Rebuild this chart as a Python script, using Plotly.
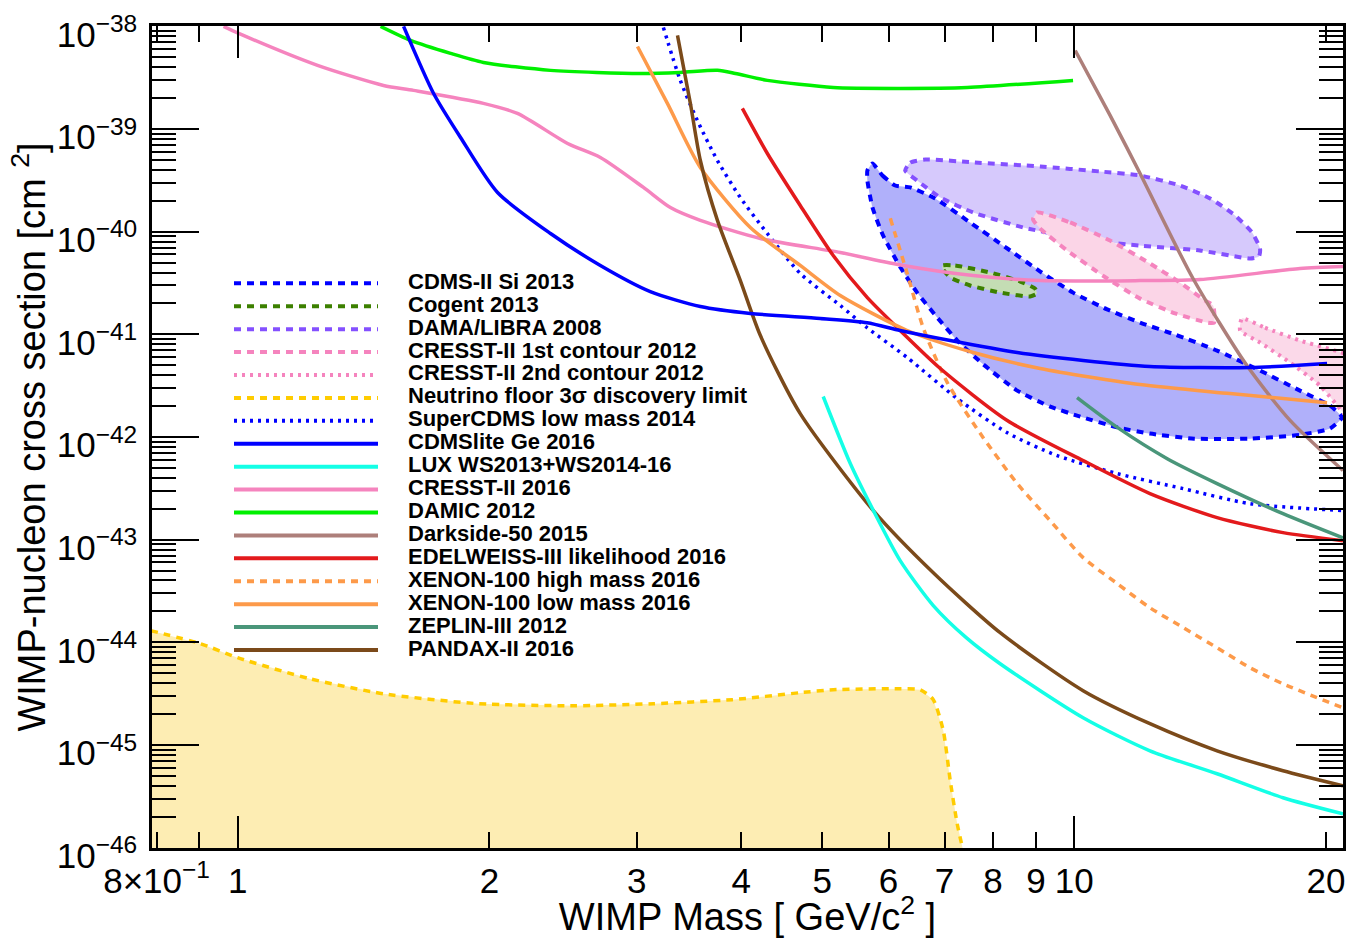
import math
import plotly.graph_objects as go

# ---------------- data (WIMP mass in GeV/c^2, cross section in cm^2) ----------------
cdms_si_m = [5.74, 5.90, 6.11, 6.37, 6.82, 7.51, 8.32, 9.11, 9.97, 10.95, 11.99, 13.20, 14.82, 16.68, 18.62, 20.23, 20.90,
             20.23, 18.62, 16.23, 13.91, 12.32, 11.26, 10.17, 9.36, 8.55, 7.79, 7.25, 6.86, 6.49, 6.20, 5.91, 5.74, 5.66, 5.66, 5.74]
cdms_si_s = [4.62e-40, 3.53e-40, 2.82e-40, 2.70e-40, 2.11e-40, 1.23e-40, 6.86e-41, 4.09e-41, 2.55e-41, 1.75e-41, 1.30e-41,
             9.95e-42, 6.95e-42, 4.44e-42, 2.83e-42, 2.02e-42, 1.55e-42,
             1.21e-42, 1.05e-42, 9.64e-43, 9.64e-43, 1.08e-42, 1.24e-42, 1.58e-42, 1.98e-42, 2.83e-42, 5.08e-42, 8.70e-42,
             1.46e-41, 2.55e-41, 4.48e-41, 9.18e-41, 1.72e-40, 3.15e-40, 3.95e-40, 4.62e-40]

cogent_m = [6.96, 7.21, 7.94, 8.62, 8.98, 9.03, 8.86, 8.16, 7.51, 7.11, 6.96, 6.96]
cogent_s = [4.69e-41, 4.69e-41, 4.00e-41, 3.27e-41, 2.79e-41, 2.50e-41, 2.34e-41, 2.55e-41, 2.99e-41, 3.58e-41, 4.38e-41, 4.69e-41]

dama_m = [6.28, 6.37, 6.64, 7.61, 9.11, 10.74, 11.99, 13.38, 14.54, 15.57, 16.32, 16.68, 16.63, 16.23, 14.14, 11.99,
          10.45, 8.69, 7.57, 6.92, 6.49, 6.28]
dama_s = [3.95e-40, 4.72e-40, 5.06e-40, 4.72e-40, 4.32e-40, 3.86e-40, 3.53e-40, 2.82e-40, 2.11e-40, 1.44e-40, 9.82e-41,
          6.86e-41, 5.73e-41, 5.48e-41, 6.56e-41, 7.33e-41, 8.20e-41, 1.10e-40, 1.54e-40, 2.15e-40, 3.15e-40, 3.95e-40]

cresst1_m = [9.03, 9.89, 11.04, 12.32, 13.38, 14.34, 14.66, 14.70, 14.46, 13.20, 11.99, 10.86, 9.81, 9.11, 8.93, 9.03]
cresst1_s = [1.54e-40, 1.23e-40, 8.20e-41, 4.90e-41, 3.20e-41, 2.13e-41, 1.91e-41, 1.30e-41, 1.30e-41, 1.60e-41, 2.23e-41,
             3.66e-41, 6.56e-41, 1.07e-40, 1.32e-40, 1.54e-40]

cresst2_m = [15.87, 16.91, 18.62, 22.0, 22.0, 19.67, 18.12, 16.68, 15.79, 15.87]
cresst2_s = [1.43e-41, 1.16e-41, 8.70e-42, 5.43e-42, 1.18e-42, 3.17e-42, 5.31e-42, 8.32e-42, 1.09e-41, 1.43e-41]

nu_floor_m = [0.787, 0.903, 1.0, 1.219, 1.494, 1.941, 2.527, 3.141, 3.903, 4.705, 5.152, 6.195, 6.546, 6.786, 6.975, 7.11, 7.247, 7.368]
nu_floor_s = [1.30e-44, 9.69e-45, 7.08e-45, 4.42e-45, 3.15e-45, 2.52e-45, 2.41e-45, 2.52e-45, 2.76e-45, 3.23e-45, 3.45e-45,
              3.53e-45, 3.45e-45, 2.76e-45, 1.38e-45, 4.48e-46, 1.71e-46, 9.3e-47]

supercdms_m = [3.228, 3.382, 3.545, 3.746, 3.990, 4.298, 4.705, 5.253, 5.656, 6.316, 7.247, 8.318, 9.544, 11.26, 13.50, 16.23, 20.96]
supercdms_s = [9.78e-39, 2.98e-39, 1.21e-39, 4.94e-40, 2.15e-40, 9.60e-41, 3.92e-41, 1.91e-41, 1.16e-41, 5.94e-42, 2.37e-42,
               1.10e-42, 6.59e-43, 4.40e-43, 3.14e-43, 2.24e-43, 1.92e-43]

cdmslite_m = [1.579, 1.715, 1.847, 2.045, 2.366, 2.714, 3.114, 3.574, 4.101, 4.971, 5.656, 6.195, 7.11, 8.55, 10.25, 12.32, 16.23, 20.06]
cdmslite_s = [1.0e-38, 2.22e-39, 8.28e-40, 2.41e-40, 9.60e-41, 4.69e-41, 2.61e-41, 1.87e-41, 1.60e-41, 1.43e-41, 1.30e-41,
              1.09e-41, 8.70e-42, 6.65e-42, 5.56e-42, 4.86e-42, 4.75e-42, 5.19e-42]

lux_m = [5.012, 5.400, 5.754, 6.195, 6.786, 7.43, 8.157, 10.25, 12.32, 14.82, 17.77, 20.96]
lux_s = [2.48e-42, 5.51e-43, 1.92e-43, 6.24e-44, 2.28e-44, 1.11e-44, 6.18e-45, 1.84e-45, 8.77e-46, 5.24e-46, 3.06e-46, 2.13e-46]

cresst2016_m = [0.962, 1.003, 1.246, 1.494, 1.623, 1.967, 2.160, 2.480, 2.714, 3.056, 3.291, 3.574, 4.216, 5.253, 6.248,
                7.574, 9.107, 11.99, 14.14, 18.62, 20.96]
cresst2016_s = [1.0e-38, 8.55e-39, 4.17e-39, 2.66e-39, 2.38e-39, 1.78e-39, 1.42e-39, 7.24e-40, 5.29e-40, 2.70e-40, 1.72e-40,
                1.29e-40, 8.59e-41, 6.27e-41, 4.69e-41, 3.74e-41, 3.34e-41, 3.34e-41, 3.42e-41, 4.38e-41, 4.58e-41]

damic_m = [1.482, 1.610, 1.797, 1.967, 2.366, 3.030, 3.382, 3.746, 3.936, 4.298, 5.152, 6.195, 7.450, 9.97]
damic_s = [1.0e-38, 7.31e-39, 5.46e-39, 4.46e-39, 3.73e-39, 3.48e-39, 3.56e-39, 3.73e-39, 3.48e-39, 2.98e-39, 2.54e-39,
           2.49e-39, 2.54e-39, 2.98e-39]

darkside_m = [10.03, 11.04, 11.99, 13.87, 16.09, 18.12, 20.96]
darkside_s = [5.83e-39, 1.36e-39, 3.69e-40, 3.50e-41, 4.96e-42, 1.45e-42, 4.71e-43]

edelweiss_m = [4.012, 4.298, 4.705, 5.152, 5.656, 6.195, 6.918, 8.318, 10.25, 12.32, 14.82, 17.77, 20.96]
edelweiss_s = [1.59e-39, 5.78e-40, 1.80e-40, 5.86e-41, 2.29e-41, 1.09e-41, 4.65e-42, 1.45e-42, 5.89e-43, 2.81e-43, 1.64e-43,
               1.17e-43, 9.77e-44]

xenon_high_m = [6.029, 6.316, 6.600, 7.053, 7.785, 8.55, 9.362, 10.25, 11.26, 12.32, 13.50, 14.82, 16.23, 17.77, 20.96]
xenon_high_s = [1.35e-40, 3.92e-41, 1.16e-41, 3.39e-42, 9.86e-43, 3.52e-43, 1.53e-43, 6.68e-44, 3.73e-44, 2.17e-44, 1.39e-44,
                8.85e-45, 5.65e-45, 3.94e-45, 2.30e-45]

xenon_low_m = [3.006, 3.264, 3.574, 4.101, 4.705, 5.253, 6.316, 7.574, 9.107, 11.99, 15.36, 20.06]
xenon_low_s = [6.38e-39, 1.78e-39, 4.23e-40, 1.10e-40, 4.69e-41, 2.39e-41, 1.09e-41, 6.65e-42, 4.65e-42, 3.24e-42, 2.65e-42, 2.16e-42]

zeplin_m = [10.08, 11.26, 12.92, 14.82, 17.77, 20.96]
zeplin_s = [2.42e-42, 1.24e-42, 6.15e-43, 3.52e-43, 1.79e-43, 1.04e-43]

pandax_m = [3.356, 3.477, 3.574, 3.746, 3.990, 4.216, 4.705, 5.754, 6.786, 8.157, 10.25, 12.32, 14.82, 17.77, 20.96]
pandax_s = [8.17e-39, 1.78e-39, 4.94e-40, 1.29e-40, 3.34e-41, 9.73e-42, 1.69e-42, 1.92e-43, 4.76e-44, 1.24e-44, 3.38e-45,
            1.61e-45, 8.77e-46, 5.61e-46, 4.00e-46]

legend_names = ["CDMS-II Si 2013", "Cogent 2013", "DAMA/LIBRA 2008", "CRESST-II 1st contour 2012",
                "CRESST-II 2nd contour 2012", "Neutrino floor 3σ discovery limit", "SuperCDMS low mass 2014",
                "CDMSlite Ge 2016", "LUX WS2013+WS2014-16", "CRESST-II 2016", "DAMIC 2012", "Darkside-50 2015",
                "EDELWEISS-III likelihood 2016", "XENON-100 high mass 2016", "XENON-100 low mass 2016",
                "ZEPLIN-III 2012", "PANDAX-II 2016"]

x_tick_vals = [0.8, 0.9, 1, 2, 3, 4, 5, 6, 7, 8, 9, 10, 20]
x_tick_text = ["8×10<sup>−1</sup>", " ", "1", "2", "3", "4", "5", "6", "7", "8", "9", "10", "20"]
y_decades = [-46, -45, -44, -43, -42, -41, -40, -39, -38]

# ---------------- styles ----------------
BLUE = "#0000ff"
PINK = "#f584be"
ORANGE = "#fd9a4a"
DASH = "7px,6px"
DOT = "3px,5px"

contours = [
    # name, m, s, line colour, dash, fill colour
    ("CDMS-II Si 2013", cdms_si_m, cdms_si_s, BLUE, DASH, "#b0b0fa"),
    ("DAMA/LIBRA 2008", dama_m, dama_s, "#8450ff", DASH, "#d6c9fc"),
    ("CRESST-II 1st contour 2012", cresst1_m, cresst1_s, PINK, DASH, "#fbd5e7"),
    ("CRESST-II 2nd contour 2012", cresst2_m, cresst2_s, PINK, DOT, "rgba(251,213,231,0.9)"),
    ("Cogent 2013", cogent_m, cogent_s, "#3c8000", DASH, "#c4ddb4"),
]

curves = [
    ("SuperCDMS low mass 2014", supercdms_m, supercdms_s, BLUE, DOT),
    ("CRESST-II 2016", cresst2016_m, cresst2016_s, PINK, "solid"),
    ("DAMIC 2012", damic_m, damic_s, "#00f000", "solid"),
    ("Darkside-50 2015", darkside_m, darkside_s, "#ad7f7a", "solid"),
    ("XENON-100 high mass 2016", xenon_high_m, xenon_high_s, ORANGE, DASH),
    ("EDELWEISS-III likelihood 2016", edelweiss_m, edelweiss_s, "#e31a1c", "solid"),
    ("XENON-100 low mass 2016", xenon_low_m, xenon_low_s, ORANGE, "solid"),
    ("ZEPLIN-III 2012", zeplin_m, zeplin_s, "#4a967a", "solid"),
    ("PANDAX-II 2016", pandax_m, pandax_s, "#7b4a1a", "solid"),
    ("LUX WS2013+WS2014-16", lux_m, lux_s, "#14ffe6", "solid"),
    ("CDMSlite Ge 2016", cdmslite_m, cdmslite_s, BLUE, "solid"),
]

legend_style = {
    "CDMS-II Si 2013": (BLUE, DASH),
    "Cogent 2013": ("#3c8000", DASH),
    "DAMA/LIBRA 2008": ("#8450ff", DASH),
    "CRESST-II 1st contour 2012": (PINK, DASH),
    "CRESST-II 2nd contour 2012": (PINK, DOT),
    "Neutrino floor 3σ discovery limit": ("#ffcc00", DASH),
    "SuperCDMS low mass 2014": (BLUE, DOT),
    "CDMSlite Ge 2016": (BLUE, "solid"),
    "LUX WS2013+WS2014-16": ("#14ffe6", "solid"),
    "CRESST-II 2016": (PINK, "solid"),
    "DAMIC 2012": ("#00f000", "solid"),
    "Darkside-50 2015": ("#ad7f7a", "solid"),
    "EDELWEISS-III likelihood 2016": ("#e31a1c", "solid"),
    "XENON-100 high mass 2016": (ORANGE, DASH),
    "XENON-100 low mass 2016": (ORANGE, "solid"),
    "ZEPLIN-III 2012": ("#4a967a", "solid"),
    "PANDAX-II 2016": ("#7b4a1a", "solid"),
}

X_RANGE = [math.log10(0.79), math.log10(20.96)]
Y_RANGE = [-46.004, -37.996]

fig = go.Figure()

# neutrino floor filled region (closed down below the bottom of the frame)
floor = 10 ** (Y_RANGE[0] - 1)
fig.add_trace(go.Scatter(
    x=nu_floor_m + [nu_floor_m[-1], nu_floor_m[0]],
    y=nu_floor_s + [floor, floor],
    mode="lines", fill="toself", fillcolor="#fdedb3",
    line=dict(width=0, color="rgba(0,0,0,0)"), showlegend=False, hoverinfo="skip"))
fig.add_trace(go.Scatter(
    x=nu_floor_m, y=nu_floor_s, mode="lines", name="Neutrino floor 3σ discovery limit",
    line=dict(color="#ffcc00", width=3.5, dash=DASH, shape="spline", smoothing=0.6), showlegend=False))

for name, m, s, col, dash, fc in contours:
    fig.add_trace(go.Scatter(
        x=m, y=s, mode="lines", name=name, fill="toself", fillcolor=fc,
        line=dict(color=col, width=4, dash=dash, shape="spline", smoothing=0.5), showlegend=False))

for name, m, s, col, dash in curves:
    fig.add_trace(go.Scatter(
        x=m, y=s, mode="lines", name=name,
        line=dict(color=col, width=3.5, dash=dash, shape="spline", smoothing=0.7), showlegend=False))

# ---------------- hand-built legend (ROOT style, tight rows) ----------------
L, R, T, B = 152, 1343, 26, 848
W, H = R - L, B - T
row0, row_step = 283.3, 22.92
shapes = []
annotations = []
for i, name in enumerate(legend_names):
    col, dash = legend_style[name]
    yp = (B - (row0 + i * row_step)) / H
    shapes.append(dict(type="line", xref="paper", yref="paper",
                       x0=(234 - L) / W, x1=(378 - L) / W, y0=yp, y1=yp,
                       line=dict(color=col, width=4, dash=dash)))
    annotations.append(dict(xref="paper", yref="paper", x=(406 - L) / W, y=yp + 2.0 / H,
                            xanchor="left", yanchor="middle", showarrow=False,
                            text="<b>" + name + "</b>",
                            font=dict(family="Liberation Sans, Arial, sans-serif", size=22, color="black")))

y_minor = [k * 10.0 ** e for e in y_decades[:-1] for k in range(2, 10)]

fig.update_layout(
    width=1361, height=938,
    margin=dict(l=L, r=1361 - R, t=T, b=938 - B, autoexpand=False),
    plot_bgcolor="white", paper_bgcolor="white",
    font=dict(family="Liberation Sans, Arial, sans-serif", color="black"),
    shapes=shapes, annotations=annotations, showlegend=False,
    xaxis=dict(
        type="log", range=X_RANGE, showgrid=False, zeroline=False, automargin=False,
        showline=True, linecolor="black", linewidth=2.5, mirror="allticks",
        ticks="inside", ticklen=16, tickwidth=2, tickcolor="black",
        tickmode="array", tickvals=x_tick_vals, ticktext=x_tick_text, tickangle=0,
        tickfont=dict(size=35), ticklabelstandoff=0,
        minor=dict(tickmode="array", tickvals=[1, 10], ticks="inside", ticklen=32, tickwidth=2, tickcolor="black"),
        title=dict(text="WIMP Mass [ GeV/c<sup>2</sup> ]", font=dict(size=38), standoff=9),
    ),
    yaxis=dict(
        type="log", range=Y_RANGE, showgrid=False, zeroline=False, automargin=False,
        showline=True, linecolor="black", linewidth=2.5, mirror="allticks",
        ticks="inside", ticklen=47, tickwidth=2, tickcolor="black",
        tickmode="array", tickvals=[10.0 ** e for e in y_decades],
        ticktext=["10<sup>−%d</sup>" % (-e) for e in y_decades], tickangle=0,
        tickfont=dict(size=35), ticklabelshift=8, ticklabelstandoff=5,
        minor=dict(tickmode="array", tickvals=y_minor, ticks="inside", ticklen=24, tickwidth=2, tickcolor="black"),
        title=dict(text="WIMP-nucleon cross section [cm <sup>2</sup>]", font=dict(size=38), standoff=0),
    ),
)

fig.write_html("out.html")
